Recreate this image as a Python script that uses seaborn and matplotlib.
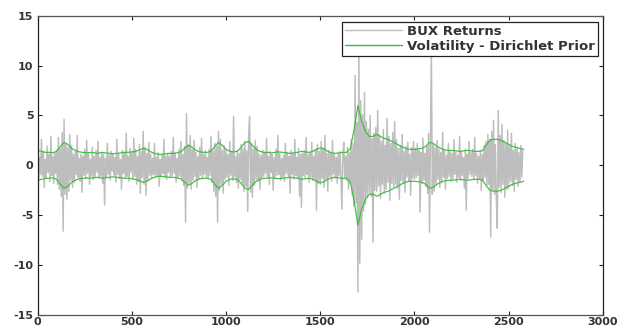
import numpy as np
import pandas as pd
import matplotlib
matplotlib.use("Agg")
import matplotlib.pyplot as plt
import seaborn as sns

# Daily BUX returns, one value every 5 trading days, grouped per 100 days
ret_0000 = [1.2, -1.5, 0.8, -0.9, 2.6, -1.1, 1.4, -2.2, 0.6, -1.3, 1.9, -0.7, 1.1, -1.6, 2.9, -1.0, 0.9, -1.8, 1.3, -0.8]
ret_0100 = [1.5, -1.9, 2.8, -2.4, 1.7, -3.1, 3.3, -6.6, 4.6, -2.9, 2.2, -3.4, 1.8, -2.6, 3.1, -1.5, 2.0, -2.2, 1.1, -1.7]
ret_0200 = [1.4, -0.9, 3.0, -1.2, 0.7, -1.6, 1.1, -2.7, 0.9, -1.0, 1.6, -1.3, 2.5, -0.8, 1.2, -1.9, 0.6, -1.1, 1.8, -1.4]
ret_0300 = [0.9, -1.2, 1.5, -0.7, 2.4, -1.3, 0.8, -1.1, 1.3, -1.8, 1.1, -4.0, 0.7, -1.2, 2.2, -0.9, 1.0, -1.5, 1.4, -0.6]
ret_0400 = [1.2, -1.0, 0.8, -1.7, 2.6, -0.9, 1.1, -1.3, 0.6, -2.4, 1.5, -0.8, 1.3, -1.2, 3.2, -1.1, 0.9, -1.6, 1.7, -0.7]
ret_0500 = [1.3, -1.4, 2.7, -1.1, 1.6, -1.9, 0.9, -1.6, 2.1, -2.8, 1.4, -1.2, 3.4, -1.9, 1.8, -3.0, 1.2, -1.5, 2.3, -1.0]
ret_0600 = [1.1, -1.3, 0.7, -0.9, 2.2, -1.2, 0.8, -1.0, 1.3, -2.1, 0.6, -1.1, 1.0, -0.8, 2.6, -1.2, 0.9, -1.4, 1.2, -0.7]
ret_0700 = [0.9, -1.2, 1.4, -1.0, 2.8, -0.8, 1.2, -1.7, 0.7, -1.3, 1.6, -1.1, 2.4, -1.5, 1.1, -2.0, 1.9, -5.7, 5.2, -2.3]
ret_0800 = [2.1, -1.8, 3.0, -2.4, 1.6, -1.5, 2.5, -1.1, 1.3, -2.2, 0.9, -1.4, 1.8, -1.0, 2.7, -1.3, 1.1, -0.9, 1.5, -1.2]
ret_0900 = [0.8, -1.3, 1.6, -1.0, 2.9, -1.7, 1.4, -2.6, 2.2, -3.1, 1.9, -5.7, 3.4, -2.5, 2.6, -1.9, 1.5, -2.8, 2.0, -1.4]
ret_1000 = [1.6, -1.2, 1.1, -2.0, 2.4, -1.0, 1.3, -1.5, 4.9, -1.1, 0.9, -1.7, 1.5, -2.3, 1.2, -1.4, 2.1, -1.9, 1.7, -2.6]
ret_1100 = [2.4, -2.1, 1.5, -4.6, 3.1, 4.9, -2.7, 2.2, -3.2, 1.6, -2.0, 2.5, -1.4, 1.9, -1.6, 1.2, -2.4, 1.0, -1.3, 1.5]
ret_1200 = [-1.1, 1.3, -0.8, 2.7, -1.2, 0.9, -1.9, 1.4, -0.7, 1.1, -2.5, 0.8, -1.3, 1.6, -1.0, 3.0, -0.9, 1.2, -1.5, 0.7]
ret_1300 = [-1.2, 1.0, -1.6, 2.2, -0.8, 1.3, -1.1, 0.9, -2.8, 1.5, -0.9, 1.2, -1.4, 2.6, -1.0, 0.8, -1.3, 1.7, -3.1, 1.1]
ret_1400 = [-4.2, 1.2, -1.0, 1.5, -1.3, 2.8, -0.9, 1.1, -1.7, 1.3, -1.2, 2.3, -1.5, 0.9, -1.4, 1.6, -4.5, 2.1, -1.8, 1.4]
ret_1500 = [-1.9, 2.4, -1.3, 1.7, -2.2, 3.0, -1.4, 1.2, -2.6, 1.5, -1.1, 1.3, -1.6, 2.5, -0.9, 1.1, -1.3, 0.8, -1.8, 1.2]
ret_1600 = [-1.0, 1.4, -1.2, -4.4, 1.1, 2.3, -1.3, 0.9, -1.5, 1.8, -2.4, 1.3, -1.9, 2.6, -3.0, 2.2, -4.1, 9.0, -3.8, 4.3]
ret_1700 = [-12.7, 12.4, -9.8, 6.5, -7.4, 5.1, -4.6, 7.3, -3.9, 4.4, -3.2, 3.6, -2.8, 5.0, -3.1, 2.7, -7.7, 3.2, -2.5, 3.8]
ret_1800 = [-2.6, 5.5, -2.1, 3.0, -3.3, 2.4, -1.9, 3.6, -2.8, 2.0, -2.4, 4.7, -1.7, 2.9, -3.5, 2.2, -1.8, 3.3, -2.2, 4.4]
ret_1900 = [-1.9, 2.6, -2.3, 1.7, -3.4, 2.0, -1.5, 3.1, -1.8, 1.4, -2.7, 1.9, -1.2, 2.3, -1.6, 1.1, -3.0, 1.8, -1.3, 2.4]
ret_2000 = [-1.4, 1.7, -1.2, 2.2, -1.0, 1.5, -4.7, 1.3, -1.8, 2.7, -1.5, 1.2, -2.1, 1.9, -2.8, 3.2, -6.7, 2.4, 12.0, -2.9]
ret_2100 = [2.1, -2.6, 1.8, -1.9, 2.5, -1.4, 1.6, -2.2, 1.3, -1.7, 3.3, -1.2, 1.5, -2.4, 1.0, -1.3, 2.2, -1.1, 1.4, -1.6]
ret_2200 = [1.2, -1.4, 2.6, -0.9, 1.3, -1.7, 1.0, -1.2, 2.9, -1.5, 1.4, -1.0, 0.8, -2.3, 1.6, -4.5, 1.1, -1.3, 2.4, -0.9]
ret_2300 = [1.3, -1.1, 1.6, -1.4, 2.8, -1.0, 1.2, -1.8, 0.9, -1.3, 1.5, -2.5, 1.1, -1.6, 2.0, -1.2, 2.4, -2.0, 3.1, -1.9]
ret_2400 = [2.6, -7.2, 3.4, -2.5, 4.5, -2.9, 2.1, -3.6, -6.3, 5.5, -2.2, 3.0, -2.7, 4.1, -1.9, 2.5, -3.2, 2.2, -2.4, 3.5]
ret_2500 = [-2.3, 1.9, -1.6, 3.2, -2.0, 1.5, -2.6, 2.2, -1.4, 1.8, -2.1, 1.3, -1.7, 2.0, -1.2, 1.5]
RET_STEP = 5

# Estimated volatility (Dirichlet prior), one value every 20 trading days
vol_0000 = [1.5, 1.4, 1.3, 1.3, 1.25, 1.4, 1.9, 2.3, 2.1, 1.7, 1.5, 1.35, 1.3, 1.25, 1.3, 1.25, 1.2, 1.3, 1.25, 1.2]
vol_0400 = [1.15, 1.2, 1.25, 1.3, 1.3, 1.35, 1.4, 1.55, 1.7, 1.6, 1.35, 1.2, 1.1, 1.1, 1.15, 1.2, 1.2, 1.25, 1.35, 1.7]
vol_0800 = [2.0, 1.8, 1.5, 1.35, 1.3, 1.3, 1.4, 1.9, 2.3, 2.0, 1.6, 1.4, 1.35, 1.4, 1.8, 2.3, 2.4, 2.0, 1.6, 1.4]
vol_1200 = [1.3, 1.3, 1.25, 1.3, 1.35, 1.3, 1.25, 1.2, 1.25, 1.3, 1.4, 1.35, 1.3, 1.4, 1.6, 1.75, 1.65, 1.4, 1.25, 1.2]
vol_1600 = [1.25, 1.3, 1.3, 1.7, 3.6, 6.0, 4.4, 3.4, 2.9, 2.9, 3.1, 2.9, 2.7, 2.6, 2.4, 2.2, 2.0, 1.8, 1.65, 1.6]
vol_2000 = [1.6, 1.65, 1.7, 1.9, 2.3, 2.2, 1.9, 1.7, 1.55, 1.5, 1.5, 1.45, 1.4, 1.45, 1.5, 1.45, 1.4, 1.4, 1.45, 2.0]
vol_2400 = [2.5, 2.6, 2.6, 2.5, 2.3, 2.1, 1.9, 1.8, 1.7, 1.6]
VOL_STEP = 20

x_ticks = [0, 500, 1000, 1500, 2000, 2500, 3000]
y_ticks = [-15, -10, -5, 0, 5, 10, 15]

returns = (ret_0000 + ret_0100 + ret_0200 + ret_0300 + ret_0400 + ret_0500 + ret_0600
           + ret_0700 + ret_0800 + ret_0900 + ret_1000 + ret_1100 + ret_1200 + ret_1300
           + ret_1400 + ret_1500 + ret_1600 + ret_1700 + ret_1800 + ret_1900 + ret_2000
           + ret_2100 + ret_2200 + ret_2300 + ret_2400 + ret_2500)
volatility = vol_0000 + vol_0400 + vol_0800 + vol_1200 + vol_1600 + vol_2000 + vol_2400

df_ret = pd.DataFrame({"t": np.arange(len(returns)) * RET_STEP, "r": returns})
df_vol = pd.DataFrame({"t": np.arange(len(volatility)) * VOL_STEP, "v": volatility})
df_vol["neg"] = -df_vol["v"]

sns.set_theme(style="white")
plt.rcParams["font.family"] = ["DejaVu Sans"]
plt.rcParams["axes.unicode_minus"] = False

fig = plt.figure(figsize=(6.24, 3.30), dpi=100)
ax = fig.add_axes([0.0604, 0.0455, 0.9056, 0.907])

gray = "#bdbdbd"
green = "#3cbf3c"

sns.lineplot(data=df_ret, x="t", y="r", color=gray, linewidth=1.05,
             ax=ax, label="BUX Returns", estimator=None)
sns.lineplot(data=df_vol, x="t", y="v", color=green, linewidth=0.85,
             ax=ax, label="Volatility - Dirichlet Prior", estimator=None)
sns.lineplot(data=df_vol, x="t", y="neg", color=green, linewidth=0.85,
             ax=ax, label="_nolegend_", estimator=None)

ax.set_xlim(0, 3000)
ax.set_ylim(-15, 15)
ax.set_xticks(x_ticks)
ax.set_yticks(y_ticks)
ax.set_xlabel("")
ax.set_ylabel("")

ax.tick_params(axis="both", which="both", direction="in", length=3, width=0.8,
               top=True, right=True, bottom=True, left=True,
               labelsize=8, labelcolor="#333333", color="#222222")
ax.tick_params(axis="x", pad=1.5)
ax.tick_params(axis="y", pad=3)
for lab in ax.get_xticklabels() + ax.get_yticklabels():
    lab.set_fontweight("bold")

for side in ["left", "right"]:
    ax.spines[side].set_color("#222222")
    ax.spines[side].set_linewidth(0.9)
for side in ["top", "bottom"]:
    ax.spines[side].set_color("#555555")
    ax.spines[side].set_linewidth(0.9)

leg = ax.legend(loc="upper right", bbox_to_anchor=(0.991, 0.979), borderaxespad=0,
                frameon=True, fancybox=False, framealpha=1, edgecolor="#222222",
                prop={"size": 9.5, "weight": "bold"}, handlelength=4.3, handletextpad=0.4,
                labelspacing=0.15, borderpad=0.22)
leg.get_frame().set_linewidth(0.9)
for t in leg.get_texts():
    t.set_color("#333333")
for h in leg.get_lines():
    h.set_linewidth(1.0)

fig.savefig("out.png", dpi=100, facecolor="white")
